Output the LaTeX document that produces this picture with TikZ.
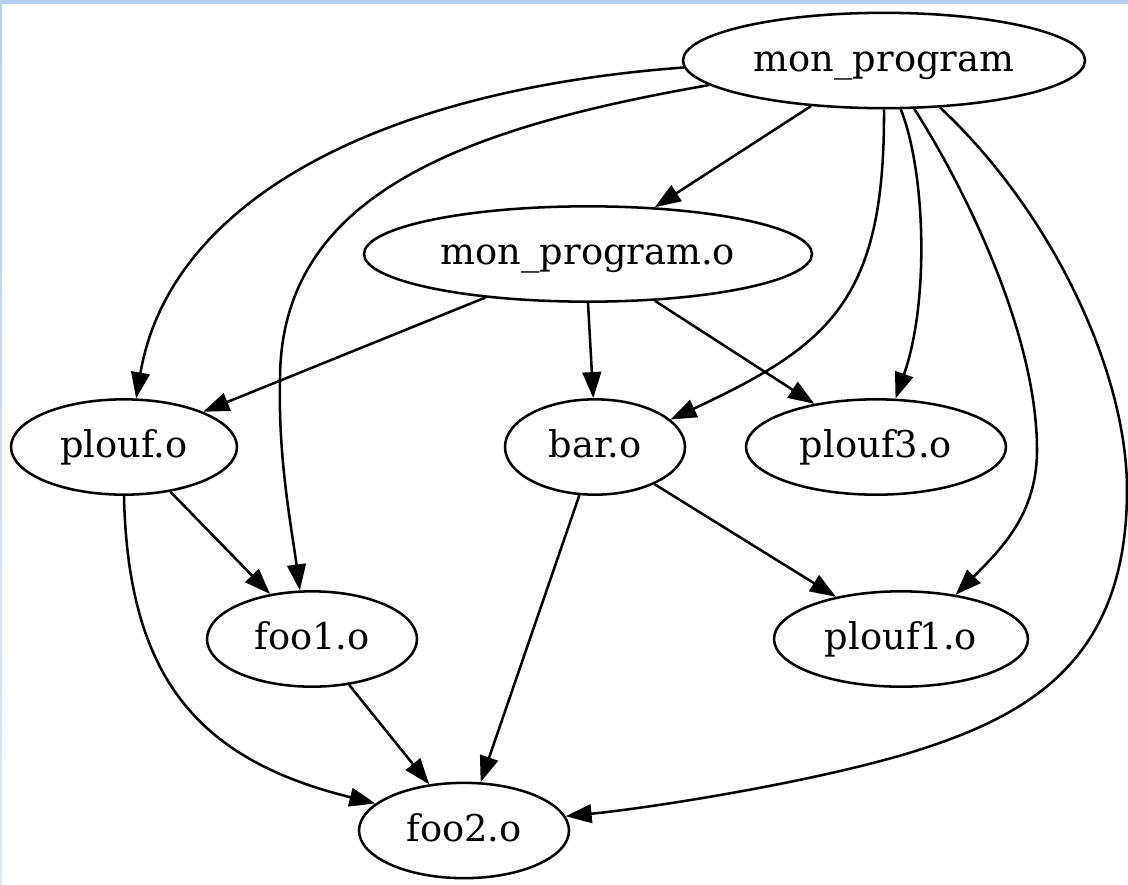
\documentclass[tikz,border=0pt]{standalone}
\usepackage{fontspec}
\setmainfont{DejaVu Serif}
\usetikzlibrary{shapes.geometric,arrows.meta}
\definecolor{frameblue}{RGB}{184,207,238}
\definecolor{framepale}{RGB}{222,232,246}
\begin{document}
\begin{tikzpicture}[x=0.75pt,y=-0.75pt,
  target/.style={ellipse, draw, line width=1.9pt, inner sep=0pt,
    minimum height=71.5pt, font=\fontsize{27.6}{33}\selectfont,
    text height=23pt, text depth=7pt},
  dep/.style={line width=1.9pt, -{Triangle[length=19.5pt,width=14pt]}}]
% page and window frame
\fill[white] (0,0) rectangle (1128,885);
\useasboundingbox (0,0) rectangle (1128,885);
\fill[frameblue] (0,0) rectangle (1128,4);
\shade[top color=frameblue, bottom color=framepale] (0,4) rectangle (2,885);

% build targets
\node[target, minimum width=301.5pt] (mp)     at (884,60.5)  {mon\_program};
\node[target, minimum width=336pt]   (mpo)    at (588,254)   {mon\_program.o};
\node[target, minimum width=169.5pt] (plouf)  at (124,447)   {plouf.o};
\node[target, minimum width=135pt]   (bar)    at (595,447)   {bar.o};
\node[target, minimum width=195pt]   (plouf3) at (876,447)   {plouf3.o};
\node[target, minimum width=157.5pt] (foo1)   at (312,639)   {foo1.o};
\node[target, minimum width=190.5pt] (plouf1) at (901,639)   {plouf1.o};
\node[target, minimum width=157.5pt] (foo2)   at (464,830.5) {foo2.o};

% straight dependencies
\draw[dep] (mp.212)    -- (mpo.35);
\draw[dep] (mpo.203)   -- (plouf.24);
\draw[dep] (mpo.270)   -- (bar.92);
\draw[dep] (mpo.325)   -- (plouf3.145);
\draw[dep] (plouf.316) -- (foo1.133);
\draw[dep] (foo1.309)  -- (foo2.127);
\draw[dep] (bar.252)   -- (foo2.71);
\draw[dep] (bar.328)   -- (plouf1.147);

% curved dependencies
\draw[dep] (mp.182) .. controls (380,90) and (170,200) .. (plouf.76);
\draw[dep] (mp.188) .. controls (450,130) and (280,200) .. (280,380)
  .. controls (278,460) and (292,530) .. (foo1.104);
\draw[dep] (mp.270) .. controls (885,300) and (830,345) .. (bar.20);
\draw[dep] (mp.289) .. controls (925,170) and (930,300) .. (plouf3.68);
\draw[dep] (mp.302) .. controls (960,180) and (1037,330) .. (1037,450)
  .. controls (1037,515) and (1000,550) .. (plouf1.39);
\draw[dep] (mp.320) .. controls (1050,210) and (1127,370) .. (1127,490)
  .. controls (1127,660) and (1030,716) .. (909,753)
  .. controls (809,783) and (650,808) .. (foo2.8);
\draw[dep] (plouf.270) .. controls (128,680) and (200,760) .. (foo2.163);
\end{tikzpicture}
\end{document}
